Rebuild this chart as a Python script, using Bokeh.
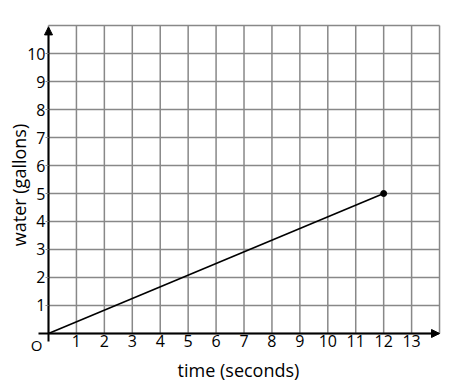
from bokeh.plotting import figure
from bokeh.models import Range1d, LinearAxis, FixedTicker, Arrow, NormalHead, Label
from bokeh.embed import file_html
from bokeh.resources import INLINE

# data
time_s = [0, 12]
water_gal = [0, 5]
x_ticks = list(range(1, 14))
y_ticks = list(range(1, 11))
x_grid = list(range(0, 15))
y_grid = list(range(0, 12))
X_MAX = 14
Y_MAX = 11

FONT = "Open Sans"
GRID = "#888888"

p = figure(width=459, height=386,
           x_range=Range1d(-1.7186, 14.715), y_range=Range1d(-1.893, 11.893),
           output_backend="svg", toolbar_location=None, min_border=0,
           x_axis_location=None, y_axis_location=None)
p.outline_line_color = None
p.grid.visible = False
p.background_fill_color = "white"

# grid
p.segment(x0=x_grid, y0=[0] * len(x_grid), x1=x_grid, y1=[Y_MAX] * len(x_grid),
          line_color=GRID, line_width=1.5)
p.segment(x0=[0] * len(y_grid), y0=y_grid, x1=[X_MAX] * len(y_grid), y1=y_grid,
          line_color=GRID, line_width=1.5)

# axes
xaxis = LinearAxis(fixed_location=0, bounds=(-0.36, X_MAX - 0.05),
                   ticker=FixedTicker(ticks=x_ticks), axis_label="time (seconds)")
yaxis = LinearAxis(fixed_location=0, bounds=(-0.3, Y_MAX - 0.1),
                   ticker=FixedTicker(ticks=y_ticks), axis_label="water (gallons)")
for ax in (xaxis, yaxis):
    ax.axis_line_color = "black"
    ax.axis_line_width = 2
    ax.minor_tick_line_color = None
    ax.major_label_text_font = FONT
    ax.major_label_text_font_size = "16px"
    ax.major_label_text_color = "black"
    ax.axis_label_text_font = FONT
    ax.axis_label_text_font_size = "18px"
    ax.axis_label_text_font_style = "normal"
    ax.axis_label_text_color = "black"
xaxis.major_tick_line_color = None
xaxis.major_tick_out = 0
xaxis.major_tick_in = 0
xaxis.major_label_standoff = 2
xaxis.axis_label_standoff = 7
yaxis.major_tick_line_color = GRID
yaxis.major_tick_out = 3
yaxis.major_tick_in = 0
yaxis.major_label_standoff = 0
yaxis.axis_label_standoff = -7
p.add_layout(xaxis, "below")
p.add_layout(yaxis, "left")

# arrow heads
p.add_layout(Arrow(x_start=X_MAX - 0.5, y_start=0, x_end=X_MAX, y_end=0, line_color=None,
                   end=NormalHead(size=8, fill_color="black", line_color="black")))
p.add_layout(Arrow(x_start=0, y_start=Y_MAX - 0.6, x_end=0, y_end=Y_MAX - 0.05, line_color=None,
                   end=NormalHead(size=8, fill_color="black", line_color="black")))

# origin symbol
p.add_layout(Label(x=0, y=0, x_offset=-12, y_offset=-12, text="O",
                   text_font=FONT, text_font_size="15px", text_align="center",
                   text_baseline="middle", text_color="black"))

# data line
p.line(time_s, water_gal, line_color="black", line_width=1.6)
p.scatter(time_s[-1:], water_gal[-1:], size=6, fill_color="black", line_color="black")

open("out.html", "w").write(file_html(p, INLINE))
